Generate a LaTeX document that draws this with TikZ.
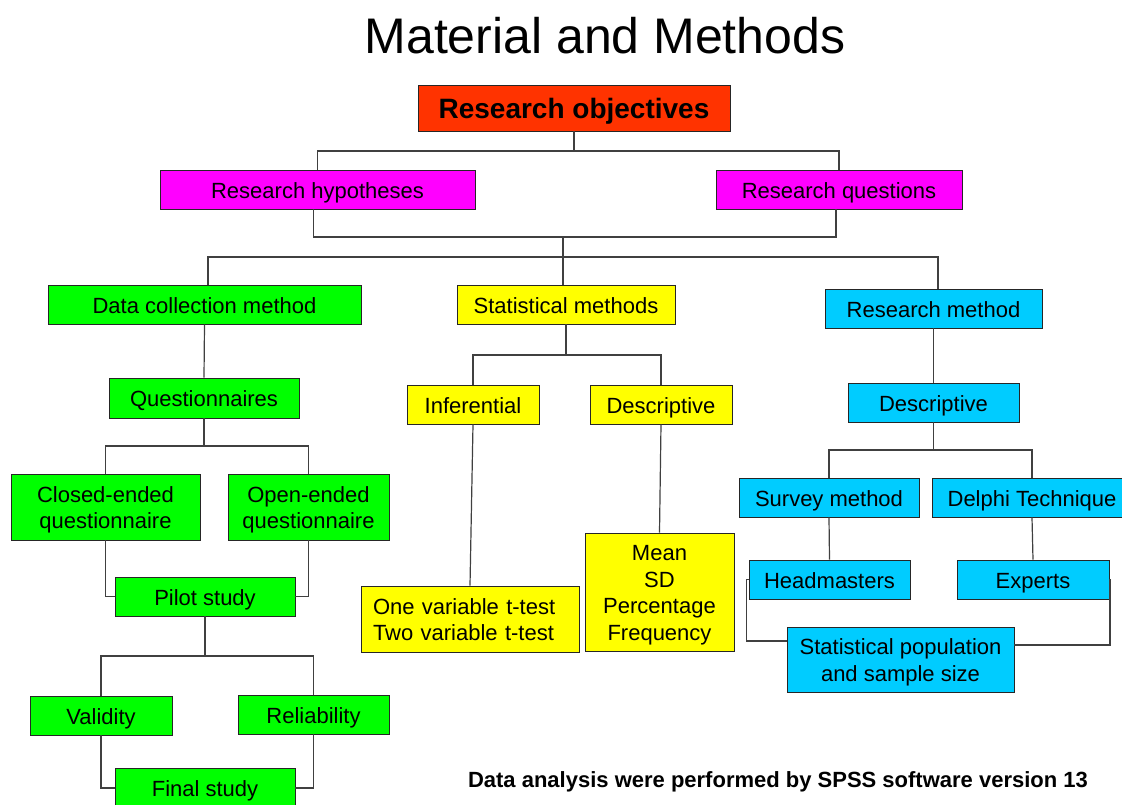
\documentclass[tikz,border=0pt]{standalone}
\usepackage{fontspec}
\setmainfont{Liberation Sans}
\definecolor{cRed}{HTML}{FF3300}
\definecolor{cMag}{HTML}{FF00FF}
\definecolor{cGreen}{HTML}{00FF00}
\definecolor{cYel}{HTML}{FFFF00}
\definecolor{cCyan}{HTML}{00CCFF}
\newcommand{\topstrut}{\rule{0pt}{1em}}
\newcommand{\botstrut}{\rule[-0.22em]{0pt}{0pt}}
\begin{document}
\begin{tikzpicture}[x=1pt,y=-1pt,
  box/.style={draw=black!85, line width=0.9pt, inner sep=0pt, align=center,
    font=\fontsize{22}{26.5}\selectfont,
    execute at begin node={\topstrut},
    execute at end node={\botstrut}},
  conn/.style={draw=black!75, line width=1.2pt}]
\useasboundingbox (0,0) rectangle (1122,805);

\node[font=\fontsize{50}{60}\selectfont, anchor=base] (title) at (605,54) {Material and Methods};

\node[box, fill=cRed, minimum width=312, minimum height=46, font=\fontsize{28}{32}\selectfont\bfseries] (obj) at (574,108) {Research objectives};
\node[box, fill=cMag, minimum width=315, minimum height=39] (hyp) at (317.5,189.5) {Research hypotheses};
\node[box, fill=cMag, minimum width=246, minimum height=39] (que) at (839,189.5) {Research questions};

\node[box, fill=cGreen, minimum width=313, minimum height=39] (dcm) at (204.5,304.5) {Data collection method};
\node[box, fill=cYel, minimum width=218, minimum height=39] (stm) at (566,304.5) {Statistical methods};
\node[box, fill=cCyan, minimum width=217, minimum height=39] (rm) at (933.5,308.5) {Research method};

\node[box, fill=cGreen, minimum width=190, minimum height=40] (qst) at (204,398) {Questionnaires};
\node[box, fill=cGreen, minimum width=189, minimum height=66] (closed) at (105.5,507) {\topstrut Closed-ended\\questionnaire\botstrut};
\node[box, fill=cGreen, minimum width=161, minimum height=66] (open) at (308.5,507) {\topstrut Open-ended\\questionnaire\botstrut};
\node[box, fill=cGreen, minimum width=180, minimum height=39] (pilot) at (205,596.5) {Pilot study};
\node[box, fill=cGreen, minimum width=142, minimum height=39] (valid) at (101,715.5) {Validity};
\node[box, fill=cGreen, minimum width=151, minimum height=39] (rel) at (313.5,714.5) {Reliability};
\node[box, fill=cGreen, minimum width=180, minimum height=40] (final) at (205,788) {Final study};

\node[box, fill=cYel, minimum width=132, minimum height=39] (inf) at (473,404.5) {Inferential};
\node[box, fill=cYel, minimum width=142, minimum height=39] (desc) at (661,404.5) {Descriptive};
\node[box, fill=cYel, minimum width=218, minimum height=66, text width=194, align=left] (ttest) at (470,619) {\topstrut One variable t-test\\Two variable t-test\botstrut};
\node[box, fill=cYel, minimum width=149, minimum height=118] (mean) at (659.5,592) {\topstrut Mean\\SD\\Percentage\\Frequency\botstrut};

\node[box, fill=cCyan, minimum width=171, minimum height=39] (rdesc) at (933.5,402.5) {Descriptive};
\node[box, fill=cCyan, minimum width=180, minimum height=39] (survey) at (829,497.5) {Survey method};
\node[box, fill=cCyan, minimum width=200, minimum height=39] (delphi) at (1032,497.5) {Delphi Technique};
\node[box, fill=cCyan, minimum width=161, minimum height=39] (head) at (829.5,579.5) {Headmasters};
\node[box, fill=cCyan, minimum width=152, minimum height=39] (exp) at (1033,579.5) {Experts};
\node[box, fill=cCyan, minimum width=227, minimum height=65] (pop) at (900.5,659.5) {\topstrut Statistical population\\and sample size\botstrut};

\node[font=\fontsize{22}{26}\selectfont\bfseries, anchor=base] (note) at (778,787) {Data analysis were performed by SPSS software version 13};

% connectors
\coordinate (o1) at (574,151);
\coordinate (b1) at (563,237);
\coordinate (b2) at (563,257);
\coordinate (s1) at (566,355);
\coordinate (q1) at (204,446);
\coordinate (p1) at (205,656);
\coordinate (r1) at (933.5,450);

\draw[conn] (obj.south) -- (o1) -| (hyp.north);
\draw[conn] (o1) -| (que.north);
\draw[conn] ([xshift=-4pt]hyp.south) |- (b1) -| ([xshift=-3pt]que.south);
\draw[conn] (b1) -- (b2) -| ([xshift=3.5pt]dcm.north);
\draw[conn] (b2) -| ([xshift=4.5pt]rm.north);
\draw[conn] (b2) -- (b2 |- stm.north);

\draw[conn] (stm.south) -- (s1) -| (inf.north);
\draw[conn] (s1) -| (desc.north);
\draw[conn] (inf.south) -- (ttest.north);
\draw[conn] (desc.south) -- (mean.north);

\draw[conn] (dcm.south) -- (qst.north);
\draw[conn] (qst.south) -- (q1) -| (closed.north);
\draw[conn] (q1) -| (open.north);
\draw[conn] (closed.south) |- (pilot.west);
\draw[conn] (open.south) |- (pilot.east);
\draw[conn] (pilot.south) -- (p1) -| (valid.north);
\draw[conn] (p1) -| (rel.north);
\draw[conn] (valid.south) |- (final.west);
\draw[conn] (rel.south) |- (final.east);

\draw[conn] (rm.south) -- (rdesc.north);
\draw[conn] (rdesc.south) -- (r1) -| (survey.north);
\draw[conn] (r1) -| (delphi.north);
\draw[conn] (survey.south) -- (head.north);
\draw[conn] (delphi.south) -- (exp.north);
\draw[conn] (head.west) -- ++(-2,0) |- ([yshift=18.5pt]pop.west);
\draw[conn] (exp.east) -- ++(0.5,0) |- ([yshift=14.5pt]pop.east);
\end{tikzpicture}
\end{document}
